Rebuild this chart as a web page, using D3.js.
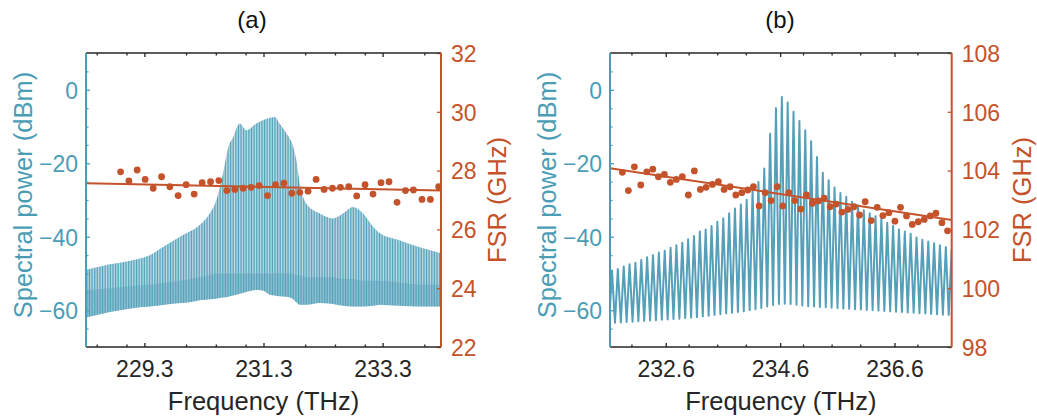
<!DOCTYPE html>
<html>
<head>
<meta charset="utf-8">
<script src="https://cdn.jsdelivr.net/npm/d3@7"></script>
<style>
  body { margin: 0; background: #fff; }
  svg { display: block; font-family: "Liberation Sans", Arial, sans-serif; }
</style>
</head>
<body>
<div class="chart"></div>
<script>
// panel (a): comb spectrum envelope (dBm)
var specAFreq = [228.32, 228.72, 229.06, 229.39, 229.64, 229.90, 230.06, 230.23, 230.40, 230.51, 230.62, 230.71, 230.79, 230.90, 231.01, 231.18, 231.29, 231.41, 231.49, 231.57, 231.69, 231.80, 231.85, 231.91, 232.02, 232.24, 232.47, 232.64, 232.80, 232.97, 233.14, 233.25, 233.59, 233.95, 234.28];
var specATop = [-49, -47.5, -46.5, -45, -42.5, -40, -38.6, -36.8, -33.6, -30, -22.7, -15.6, -12.9, -9.2, -11, -9.2, -8.3, -7.6, -7.4, -9.2, -12, -15.6, -19, -25.6, -31, -33.6, -35, -33.6, -31.9, -33.6, -37.3, -39, -41, -43, -44.5];
var specABand = [-54.5, -54, -53.5, -53, -52.5, -52, -51.5, -51, -50.5, -50, -50, -50, -50, -50, -50, -50, -50, -50, -50, -50, -50, -50, -50.5, -50.5, -51, -51, -51, -51.5, -51.5, -52, -52, -52, -52.5, -53, -53];
var specABottom = [-62, -60.5, -59.5, -59, -58.5, -58, -57.8, -57.3, -57, -56.8, -56.5, -56.3, -56, -55.5, -55, -54.5, -54.6, -55.8, -56, -56.2, -56.3, -57, -57.8, -58.5, -58.5, -58, -58.3, -58.8, -59, -59, -58.8, -58.5, -58.8, -59, -59];

// panel (a): FSR points (GHz) and linear fit
var fsrAFreq = [228.901, 229.040, 229.179, 229.313, 229.448, 229.589, 229.728, 229.867, 230.001, 230.136, 230.270, 230.411, 230.550, 230.684, 230.818, 230.958, 231.092, 231.226, 231.367, 231.501, 231.641, 231.775, 231.909, 232.048, 232.183, 232.317, 232.458, 232.592, 232.731, 232.865, 233.005, 233.139, 233.273, 233.407, 233.542, 233.683, 233.817, 233.961, 234.102, 234.241];
var fsrA = [27.96, 27.65, 28.02, 27.70, 27.40, 27.79, 27.45, 27.15, 27.52, 27.20, 27.59, 27.62, 27.66, 27.32, 27.36, 27.40, 27.43, 27.49, 27.15, 27.52, 27.57, 27.23, 27.26, 27.30, 27.70, 27.36, 27.40, 27.43, 27.45, 27.14, 27.52, 27.20, 27.59, 27.62, 26.92, 27.32, 27.34, 27.02, 27.02, 27.45];
var fitAFreq = [228.32, 234.28];
var fitA = [27.57, 27.32];

// panel (b): comb peaks and troughs (dBm)
var peakBFreq = [231.660, 231.762, 231.865, 231.967, 232.070, 232.172, 232.274, 232.377, 232.479, 232.582, 232.684, 232.786, 232.889, 232.991, 233.094, 233.196, 233.298, 233.401, 233.503, 233.606, 233.708, 233.810, 233.913, 234.015, 234.118, 234.220, 234.322, 234.425, 234.527, 234.630, 234.732, 234.834, 234.937, 235.039, 235.142, 235.244, 235.346, 235.449, 235.551, 235.654, 235.756, 235.858, 235.961, 236.063, 236.166, 236.268, 236.370, 236.473, 236.575, 236.678, 236.780, 236.882, 236.985, 237.087, 237.190, 237.292, 237.394, 237.497, 237.599];
var peakB = [-49.2, -48.8, -48.1, -47.5, -47.1, -46.3, -45.6, -45.0, -44.3, -43.8,
  -43.0, -42.3, -41.6, -40.7, -39.8, -38.6, -38.0, -37.1, -35.9, -35.0,
  -33.6, -32.3, -31.2, -29.9, -27.1, -25.1, -21.4, -12, -5, -2,
  -3.5, -6, -8.5, -11, -14, -18.3, -22.6, -24.6, -26.6, -28.1,
  -29.1, -30.5, -31.4, -32.8, -33.6, -34.4, -35.0, -36.2, -37.1, -38.0,
  -38.6, -39.2, -40.2, -40.8, -41.3, -41.8, -42.3, -42.8, -43.5];
var troughBFreq = [231.609, 231.712, 231.814, 231.916, 232.019, 232.121, 232.223, 232.326, 232.428, 232.531, 232.633, 232.735, 232.838, 232.940, 233.043, 233.145, 233.247, 233.350, 233.452, 233.555, 233.657, 233.759, 233.862, 233.964, 234.067, 234.169, 234.271, 234.374, 234.476, 234.579, 234.681, 234.783, 234.886, 234.988, 235.091, 235.193, 235.295, 235.398, 235.500, 235.603, 235.705, 235.807, 235.910, 236.012, 236.115, 236.217, 236.319, 236.422, 236.524, 236.627, 236.729, 236.831, 236.934, 237.036, 237.139, 237.241, 237.343, 237.446, 237.548];
var troughB = [-63.5, -63.4, -63.3, -63.2, -63.1, -63.0, -62.9, -62.8, -62.7, -62.6,
  -62.5, -62.4, -62.3, -62.1, -62.0, -61.9, -61.7, -61.5, -61.3, -61.1,
  -60.9, -60.7, -60.5, -60.3, -60.0, -59.7, -59.4, -59.0, -58.6, -58.3,
  -58.2, -58.3, -58.5, -58.7, -58.9, -59.0, -59.1, -59.2, -59.3, -59.4,
  -59.5, -59.6, -59.7, -59.8, -59.9, -60.0, -60.1, -60.2, -60.3, -60.4,
  -60.5, -60.6, -60.7, -60.8, -60.9, -61.0, -61.1, -61.2, -61.3];

// panel (b): FSR points (GHz) and linear fit
var fsrBFreq = [231.841, 231.946, 232.051, 232.163, 232.268, 232.373, 232.471, 232.576, 232.680, 232.785, 232.890, 232.995, 233.100, 233.205, 233.305, 233.415, 233.520, 233.620, 233.725, 233.825, 233.930, 234.035, 234.133, 234.233, 234.338, 234.442, 234.548, 234.647, 234.752, 234.857, 234.962, 235.060, 235.165, 235.270, 235.370, 235.475, 235.580, 235.680, 235.785, 235.890, 235.988, 236.087, 236.192, 236.297, 236.397, 236.502, 236.607, 236.705, 236.810, 236.910, 237.015, 237.120, 237.225, 237.324, 237.429, 237.527];
var fsrB = [103.94, 103.32, 104.13, 103.51, 103.96, 104.05, 103.79, 103.87, 103.60, 103.70, 103.79, 103.17, 103.99, 103.36, 103.43, 103.53, 103.62, 103.36, 103.45, 103.17, 103.25, 103.34, 103.45, 102.80, 103.25, 102.98, 103.45, 102.80, 103.25, 102.98, 102.69, 103.17, 102.89, 102.97, 103.06, 102.77, 102.86, 102.59, 102.68, 102.77, 102.49, 102.94, 102.30, 102.75, 102.47, 102.57, 102.28, 102.75, 102.46, 102.17, 102.26, 102.34, 102.46, 102.55, 102.23, 101.95];
var fitBFreq = [231.625, 237.6];
var fitB = [104.08, 102.32];

// ticks
var powerTicks = [-60, -40, -20, 0];
var powerMinor = [-65, -55, -50, -45, -35, -30, -25, -15, -10, -5, 5];
var fsrATicks = [22, 24, 26, 28, 30, 32];
var fsrBTicks = [98, 100, 102, 104, 106, 108];
var freqATicks = [229.3, 231.3, 233.3];
var freqAMinor = [228.5, 229, 230, 230.5, 231, 232, 232.5, 233, 234];
var freqBTicks = [232.6, 234.6, 236.6];
var freqBMinor = [232, 233, 233.5, 234, 235, 235.5, 236, 237];

(function() {
  var
    width = 1037,
    height = 419,
    top = 53,
    bottom = 347,
    blue = "#4b9db6",
    specBlue = "#559fb8",
    red = "#c4532b",
    dark = "#262626";

  var svg = d3.select(".chart").append("svg")
    .attr("width", width)
    .attr("height", height);

  var defs = svg.append("defs");
  var pat = defs.append("pattern")
    .attr("id", "comb")
    .attr("patternUnits", "userSpaceOnUse")
    .attr("width", 1.62)
    .attr("height", 20);
  pat.append("rect").attr("width", 1.62).attr("height", 20).attr("fill", "#c6e1ea");
  pat.append("rect").attr("width", 0.85).attr("height", 20).attr("fill", "#519fb8");

  var yP = d3.scaleLinear().domain([-70, 10]).range([bottom, top]);

  var panels = [
    {id: "a", title: "(a)", titleX: 252, left: 86, right: 441, xdom: [228.32, 234.28], fdom: [22, 32],
     xTicks: freqATicks, xMinor: freqAMinor, fTicks: fsrATicks, fmt: d3.format(".1f"),
     ylabX: 31.5, flabX: 506, fsrF: fsrAFreq, fsr: fsrA, fitF: fitAFreq, fit: fitA},
    {id: "b", title: "(b)", titleX: 780, left: 610, right: 951.7, xdom: [231.625, 237.6], fdom: [98, 108],
     xTicks: freqBTicks, xMinor: freqBMinor, fTicks: fsrBTicks, fmt: d3.format(".1f"),
     ylabX: 555.5, flabX: 1031, fsrF: fsrBFreq, fsr: fsrB, fitF: fitBFreq, fit: fitB}
  ];

  panels.forEach(function(p) {
    var x = d3.scaleLinear().domain(p.xdom).range([p.left, p.right]);
    var yF = d3.scaleLinear().domain(p.fdom).range([bottom, top]);
    var g = svg.append("g").attr("class", "panel " + p.id);

    defs.append("clipPath").attr("id", "clip-" + p.id)
      .append("rect")
        .attr("x", p.left).attr("y", top)
        .attr("width", p.right - p.left).attr("height", bottom - top);

    var plot = g.append("g").attr("clip-path", "url(#clip-" + p.id + ")");

    if (p.id === "a") {
      var env = specAFreq.map(function(f, i) {
        return {f: f, top: specATop[i], band: specABand[i], bottom: specABottom[i]};
      });
      var outer = d3.area()
        .x(function(d) { return x(d.f); })
        .y0(function(d) { return yP(d.bottom); })
        .y1(function(d) { return yP(d.top); })
        .curve(d3.curveMonotoneX);
      var inner = d3.area()
        .x(function(d) { return x(d.f); })
        .y0(function(d) { return yP(d.bottom); })
        .y1(function(d) { return yP(d.band); })
        .curve(d3.curveMonotoneX);
      plot.append("path").attr("d", outer(env)).attr("fill", "url(#comb)");
      plot.append("path").attr("d", inner(env)).attr("fill", specBlue).attr("fill-opacity", 0.4);
    } else {
      var pts = peakBFreq.map(function(f, i) { return {f: f, v: peakB[i]}; })
        .concat(troughBFreq.map(function(f, i) { return {f: f, v: troughB[i]}; }))
        .sort(function(a, b) { return a.f - b.f; });
      var comb = d3.line()
        .x(function(d) { return x(d.f); })
        .y(function(d) { return yP(d.v); });
      plot.append("path")
        .attr("d", comb(pts))
        .attr("fill", "none")
        .attr("stroke", specBlue)
        .attr("stroke-width", 2)
        .attr("stroke-linejoin", "round");
    }

    // FSR fit and points
    var fitLine = d3.line()
      .x(function(d) { return x(d[0]); })
      .y(function(d) { return yF(d[1]); });
    plot.append("path")
      .attr("d", fitLine(d3.zip(p.fitF, p.fit)))
      .attr("fill", "none")
      .attr("stroke", red)
      .attr("stroke-width", 2);
    plot.selectAll("circle")
      .data(d3.zip(p.fsrF, p.fsr))
      .enter().append("circle")
        .attr("cx", function(d) { return x(d[0]); })
        .attr("cy", function(d) { return yF(d[1]); })
        .attr("r", 3.4)
        .attr("fill", red);

    // axes
    g.append("g").attr("transform", "translate(0," + bottom + ")")
      .call(d3.axisBottom(x).tickValues(p.xTicks).tickSize(-4).tickPadding(14).tickFormat(p.fmt));
    g.append("g").attr("transform", "translate(0," + bottom + ")")
      .call(d3.axisBottom(x).tickValues(p.xMinor).tickSize(-2.5).tickFormat(""));
    g.append("g").attr("transform", "translate(0," + top + ")")
      .call(d3.axisTop(x).tickValues(p.xTicks).tickSize(-4).tickFormat(""));
    g.append("g").attr("transform", "translate(0," + top + ")")
      .call(d3.axisTop(x).tickValues(p.xMinor).tickSize(-2.5).tickFormat(""));

    g.append("g").attr("class", "yl").attr("transform", "translate(" + p.left + ",0)")
      .call(d3.axisLeft(yP).tickValues(powerTicks).tickSize(-4).tickPadding(8));
    g.append("g").attr("class", "yl").attr("transform", "translate(" + p.left + ",0)")
      .call(d3.axisLeft(yP).tickValues(powerMinor).tickSize(-2.5).tickFormat(""));

    g.append("g").attr("class", "yr").attr("transform", "translate(" + p.right + ",0)")
      .call(d3.axisRight(yF).tickValues(p.fTicks).tickSize(-4).tickPadding(10));

    g.selectAll(".domain").remove();
    g.selectAll(".tick line").attr("stroke", dark).attr("stroke-width", 1.3);
    g.selectAll(".tick text").attr("font-size", 23).attr("font-family", null).attr("fill", dark);
    g.selectAll(".yl .tick line").attr("stroke", blue);
    g.selectAll(".yl .tick text").attr("fill", blue);
    g.selectAll(".yr .tick line").attr("stroke", red);
    g.selectAll(".yr .tick text").attr("fill", red);
    g.selectAll(".yl .tick text, .yr .tick text").attr("dy", "0.36em");

    // box
    g.append("line").attr("x1", p.left).attr("x2", p.right).attr("y1", top).attr("y2", top)
      .attr("stroke", dark).attr("stroke-width", 1.6);
    g.append("line").attr("x1", p.left).attr("x2", p.right).attr("y1", bottom).attr("y2", bottom)
      .attr("stroke", dark).attr("stroke-width", 1.6);
    g.append("line").attr("x1", p.left).attr("x2", p.left).attr("y1", top).attr("y2", bottom)
      .attr("stroke", blue).attr("stroke-width", 2);
    g.append("line").attr("x1", p.right).attr("x2", p.right).attr("y1", top).attr("y2", bottom)
      .attr("stroke", red).attr("stroke-width", 2);

    // labels
    var cx = (p.left + p.right) / 2;
    g.append("text")
      .attr("x", p.titleX).attr("y", 28)
      .attr("text-anchor", "middle")
      .attr("font-size", 24)
      .attr("fill", "#111")
      .text(p.title);
    g.append("text")
      .attr("x", cx).attr("y", 410)
      .attr("text-anchor", "middle")
      .attr("font-size", 25.5)
      .attr("fill", dark)
      .text("Frequency (THz)");
    g.append("text")
      .attr("transform", "translate(" + p.ylabX + ",195) rotate(-90)")
      .attr("text-anchor", "middle")
      .attr("font-size", 25.5)
      .attr("fill", blue)
      .text("Spectral power (dBm)");
    g.append("text")
      .attr("transform", "translate(" + p.flabX + ",200) rotate(-90)")
      .attr("text-anchor", "middle")
      .attr("font-size", 25.5)
      .attr("fill", red)
      .text("FSR (GHz)");
  });
})();
</script>
</body>
</html>
